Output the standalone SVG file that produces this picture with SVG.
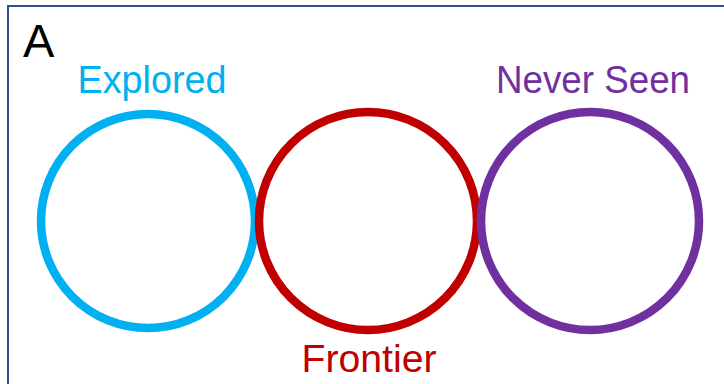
<svg xmlns="http://www.w3.org/2000/svg" width="724" height="384" viewBox="0 0 724 384">
<style>
.lbl{font-family:"Liberation Sans","Open Sans",sans-serif;font-size:38px;text-anchor:middle}
.c{fill:none;stroke-width:8.5}
</style>
<rect x="0" y="0" width="724" height="384" fill="#ffffff"/>
<rect id="frame" x="8" y="6" width="730" height="400" fill="none" stroke="#2F528F" stroke-width="2"/>
<text x="23" y="57" font-family="Liberation Sans, sans-serif" font-size="47" fill="#000">A</text>
<g id="explored">
<circle class="c" cx="148" cy="221" r="107" stroke="#00B0F0"/>
<text class="lbl" x="152" y="93" fill="#00B0F0" textLength="149" lengthAdjust="spacingAndGlyphs">Explored</text>
</g>
<g id="frontier">
<circle class="c" cx="368" cy="221" r="109" stroke="#C00000"/>
<text class="lbl" x="369" y="372" fill="#C00000" textLength="135" lengthAdjust="spacingAndGlyphs">Frontier</text>
</g>
<g id="never-seen">
<circle class="c" cx="590" cy="221" r="109" stroke="#7030A0"/>
<text class="lbl" x="593" y="93" fill="#7030A0" textLength="194" lengthAdjust="spacingAndGlyphs">Never Seen</text>
</g>
<g id="connectors"/>
</svg>
